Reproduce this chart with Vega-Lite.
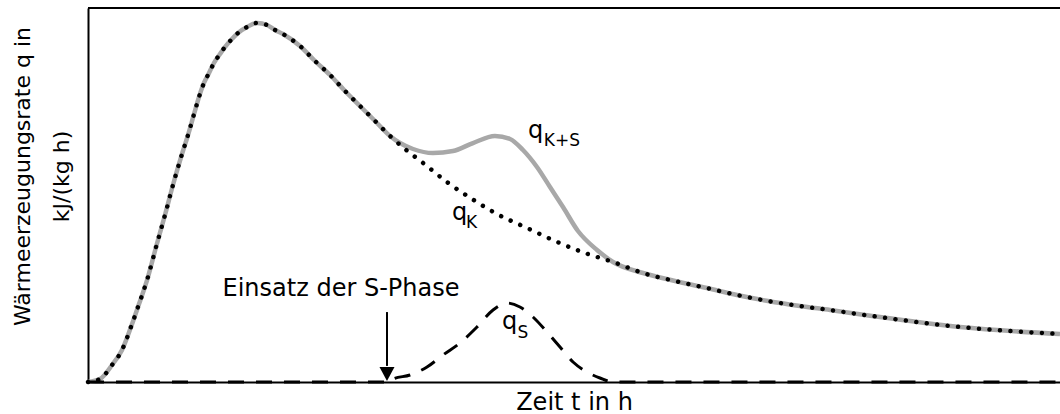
{
  "$schema": "https://vega.github.io/schema/vega-lite/v6.json",
  "width": 972,
  "height": 374,
  "autosize": {"type": "none"},
  "padding": {"left": 88, "top": 8, "right": 0, "bottom": 32},
  "background": "white",
  "config": {"view": {"stroke": null}, "font": "DejaVu Sans"},
  "datasets": {
    "qKS": [
      {"t": 0, "q": 0}, {"t": 1.23, "q": 0.8}, {"t": 2.47, "q": 4.55}, {"t": 3.5, "q": 8.56},
      {"t": 4.42, "q": 14.71}, {"t": 5.14, "q": 20.05}, {"t": 6.17, "q": 28.07}, {"t": 7.0, "q": 36.1},
      {"t": 7.92, "q": 44.65}, {"t": 8.74, "q": 52.67}, {"t": 9.67, "q": 60.96}, {"t": 10.29, "q": 66.04},
      {"t": 10.91, "q": 71.66}, {"t": 11.42, "q": 76.2}, {"t": 11.93, "q": 79.95}, {"t": 12.45, "q": 82.62},
      {"t": 12.96, "q": 85.29}, {"t": 13.58, "q": 87.7}, {"t": 14.09, "q": 89.57}, {"t": 14.81, "q": 91.71},
      {"t": 15.43, "q": 93.32}, {"t": 16.36, "q": 94.92}, {"t": 17.39, "q": 95.99}, {"t": 18.42, "q": 95.45},
      {"t": 19.24, "q": 94.12}, {"t": 20.06, "q": 93.05}, {"t": 21.81, "q": 89.84}, {"t": 23.35, "q": 85.83},
      {"t": 24.9, "q": 82.09}, {"t": 26.44, "q": 77.81}, {"t": 27.98, "q": 73.8}, {"t": 29.53, "q": 69.79},
      {"t": 31.07, "q": 65.78}, {"t": 32.1, "q": 63.9}, {"t": 33.44, "q": 62.3}, {"t": 35.49, "q": 61.23},
      {"t": 37.55, "q": 61.76}, {"t": 39.61, "q": 63.9}, {"t": 41.87, "q": 65.78}, {"t": 43.42, "q": 64.97},
      {"t": 44.75, "q": 62.03}, {"t": 46.19, "q": 57.49}, {"t": 47.53, "q": 52.14}, {"t": 48.87, "q": 46.79},
      {"t": 50.41, "q": 40.37}, {"t": 52.37, "q": 35.29}, {"t": 54.01, "q": 32.09}, {"t": 57.1, "q": 29.14},
      {"t": 60.39, "q": 27.01}, {"t": 63.68, "q": 25.13}, {"t": 66.77, "q": 23.26}, {"t": 69.96, "q": 21.66},
      {"t": 73.25, "q": 20.32}, {"t": 76.34, "q": 19.25}, {"t": 80.66, "q": 17.65}, {"t": 89.71, "q": 14.71},
      {"t": 100, "q": 12.83}
    ],
    "qK": [
      {"t": 0, "q": 0}, {"t": 1.23, "q": 0.8}, {"t": 2.47, "q": 4.55}, {"t": 3.5, "q": 8.56},
      {"t": 4.42, "q": 14.71}, {"t": 5.14, "q": 20.05}, {"t": 6.17, "q": 28.07}, {"t": 7.0, "q": 36.1},
      {"t": 7.92, "q": 44.65}, {"t": 8.74, "q": 52.67}, {"t": 9.67, "q": 60.96}, {"t": 10.29, "q": 66.04},
      {"t": 10.91, "q": 71.66}, {"t": 11.42, "q": 76.2}, {"t": 11.93, "q": 79.95}, {"t": 12.45, "q": 82.62},
      {"t": 12.96, "q": 85.29}, {"t": 13.58, "q": 87.7}, {"t": 14.09, "q": 89.57}, {"t": 14.81, "q": 91.71},
      {"t": 15.43, "q": 93.32}, {"t": 16.36, "q": 94.92}, {"t": 17.39, "q": 95.99}, {"t": 18.42, "q": 95.45},
      {"t": 19.24, "q": 94.12}, {"t": 20.06, "q": 93.05}, {"t": 21.81, "q": 89.84}, {"t": 23.35, "q": 85.83},
      {"t": 24.9, "q": 82.09}, {"t": 26.44, "q": 77.81}, {"t": 27.98, "q": 73.8}, {"t": 29.53, "q": 69.79},
      {"t": 31.07, "q": 65.78}, {"t": 32.61, "q": 62.3}, {"t": 34.47, "q": 58.56}, {"t": 36.93, "q": 53.48},
      {"t": 39.51, "q": 48.93}, {"t": 42.08, "q": 44.92}, {"t": 45.16, "q": 41.18}, {"t": 48.05, "q": 37.7},
      {"t": 51.13, "q": 34.49}, {"t": 54.01, "q": 32.09}, {"t": 57.1, "q": 29.14},
      {"t": 60.39, "q": 27.01}, {"t": 63.68, "q": 25.13}, {"t": 66.77, "q": 23.26}, {"t": 69.96, "q": 21.66},
      {"t": 73.25, "q": 20.32}, {"t": 76.34, "q": 19.25}, {"t": 80.66, "q": 17.65}, {"t": 89.71, "q": 14.71},
      {"t": 100, "q": 12.83}
    ],
    "qS": [
      {"t": 0, "q": 0}, {"t": 31.07, "q": 0}, {"t": 31.38, "q": 0.8}, {"t": 33.13, "q": 1.87},
      {"t": 34.88, "q": 4.01}, {"t": 36.52, "q": 7.22}, {"t": 38.27, "q": 10.43}, {"t": 40.02, "q": 14.71},
      {"t": 41.67, "q": 19.25}, {"t": 43.11, "q": 21.12}, {"t": 44.44, "q": 20.05}, {"t": 45.78, "q": 17.38},
      {"t": 47.22, "q": 13.37}, {"t": 48.56, "q": 9.36}, {"t": 49.9, "q": 5.35}, {"t": 51.34, "q": 2.67},
      {"t": 52.67, "q": 1.07}, {"t": 54.01, "q": 0}, {"t": 100, "q": 0}
    ],
    "labelMain": [
      {"t": 45.27, "q": 65.24, "label": "q"},
      {"t": 37.45, "q": 43.32, "label": "q"},
      {"t": 42.59, "q": 14.17, "label": "q"}
    ],
    "labelSub": [
      {"t": 46.9, "q": 63.1, "label": "K+S"},
      {"t": 38.9, "q": 41.18, "label": "K"},
      {"t": 44.2, "q": 11.76, "label": "S"}
    ],
    "annot": [
      {"t": 26.03, "q": 23.0, "label": "Einsatz der S-Phase"}
    ],
    "arrow": [
      {"t": 30.76, "q": 18.7, "q2": 4.3, "qh": 2.14}
    ],
    "frame": [
      {"q": 100}
    ]
  },
  "layer": [
    {
      "data": {"name": "qKS"},
      "mark": {"type": "line", "color": "#a8a8a8", "strokeWidth": 4.5, "interpolate": "monotone"},
      "encoding": {
        "x": {
          "field": "t", "type": "quantitative",
          "scale": {"domain": [0, 100], "nice": false, "zero": false},
          "axis": {
            "domain": true, "domainColor": "black", "domainWidth": 2, "ticks": false, "labels": false, "grid": false,
            "title": "Zeit t in h", "titleFontSize": 24, "titleFontWeight": "normal", "titleColor": "black",
            "titleFont": "DejaVu Sans", "titleY": 27, "titleBaseline": "alphabetic"
          }
        },
        "y": {
          "field": "q", "type": "quantitative",
          "scale": {"domain": [0, 100], "nice": false},
          "axis": {
            "domain": true, "domainColor": "black", "domainWidth": 2, "ticks": false, "labels": false, "grid": false,
            "title": ["Wärmeerzeugungsrate q in", "kJ/(kg h)"], "titleFontSize": 22, "titleFontWeight": "normal",
            "titleColor": "black", "titleFont": "DejaVu Sans", "titleAngle": -90, "titleAlign": "center",
            "titleBaseline": "alphabetic", "titleX": -59, "titleY": 168, "titleLineHeight": 39
          }
        }
      }
    },
    {
      "data": {"name": "qK"},
      "mark": {"type": "line", "color": "black", "strokeWidth": 4.5, "strokeCap": "round", "strokeDash": [0.01, 10.5], "interpolate": "monotone"},
      "encoding": {
        "x": {"field": "t", "type": "quantitative"},
        "y": {"field": "q", "type": "quantitative"}
      }
    },
    {
      "data": {"name": "qS"},
      "mark": {"type": "line", "color": "black", "strokeWidth": 3, "strokeDash": [16, 12], "interpolate": "monotone"},
      "encoding": {
        "x": {"field": "t", "type": "quantitative"},
        "y": {"field": "q", "type": "quantitative"}
      }
    },
    {
      "data": {"name": "frame"},
      "mark": {"type": "rule", "color": "black", "strokeWidth": 2},
      "encoding": {"y": {"field": "q", "type": "quantitative"}}
    },
    {
      "data": {"name": "arrow"},
      "mark": {"type": "rule", "color": "black", "strokeWidth": 2},
      "encoding": {
        "x": {"field": "t", "type": "quantitative"},
        "y": {"field": "q", "type": "quantitative"},
        "y2": {"field": "q2"}
      }
    },
    {
      "data": {"name": "arrow"},
      "mark": {"type": "point", "shape": "M -1 -0.93 L 1 -0.93 L 0 0.93 Z", "filled": true, "color": "black", "opacity": 1, "size": 225},
      "encoding": {
        "x": {"field": "t", "type": "quantitative"},
        "y": {"field": "qh", "type": "quantitative"}
      }
    },
    {
      "data": {"name": "annot"},
      "mark": {"type": "text", "font": "DejaVu Sans", "fontSize": 24, "align": "center", "baseline": "alphabetic", "color": "black"},
      "encoding": {
        "x": {"field": "t", "type": "quantitative"},
        "y": {"field": "q", "type": "quantitative"},
        "text": {"field": "label"}
      }
    },
    {
      "data": {"name": "labelMain"},
      "mark": {"type": "text", "font": "DejaVu Sans", "fontSize": 24, "align": "left", "baseline": "alphabetic", "color": "black"},
      "encoding": {
        "x": {"field": "t", "type": "quantitative"},
        "y": {"field": "q", "type": "quantitative"},
        "text": {"field": "label"}
      }
    },
    {
      "data": {"name": "labelSub"},
      "mark": {"type": "text", "font": "DejaVu Sans", "fontSize": 17, "align": "left", "baseline": "alphabetic", "color": "black"},
      "encoding": {
        "x": {"field": "t", "type": "quantitative"},
        "y": {"field": "q", "type": "quantitative"},
        "text": {"field": "label"}
      }
    }
  ]
}
